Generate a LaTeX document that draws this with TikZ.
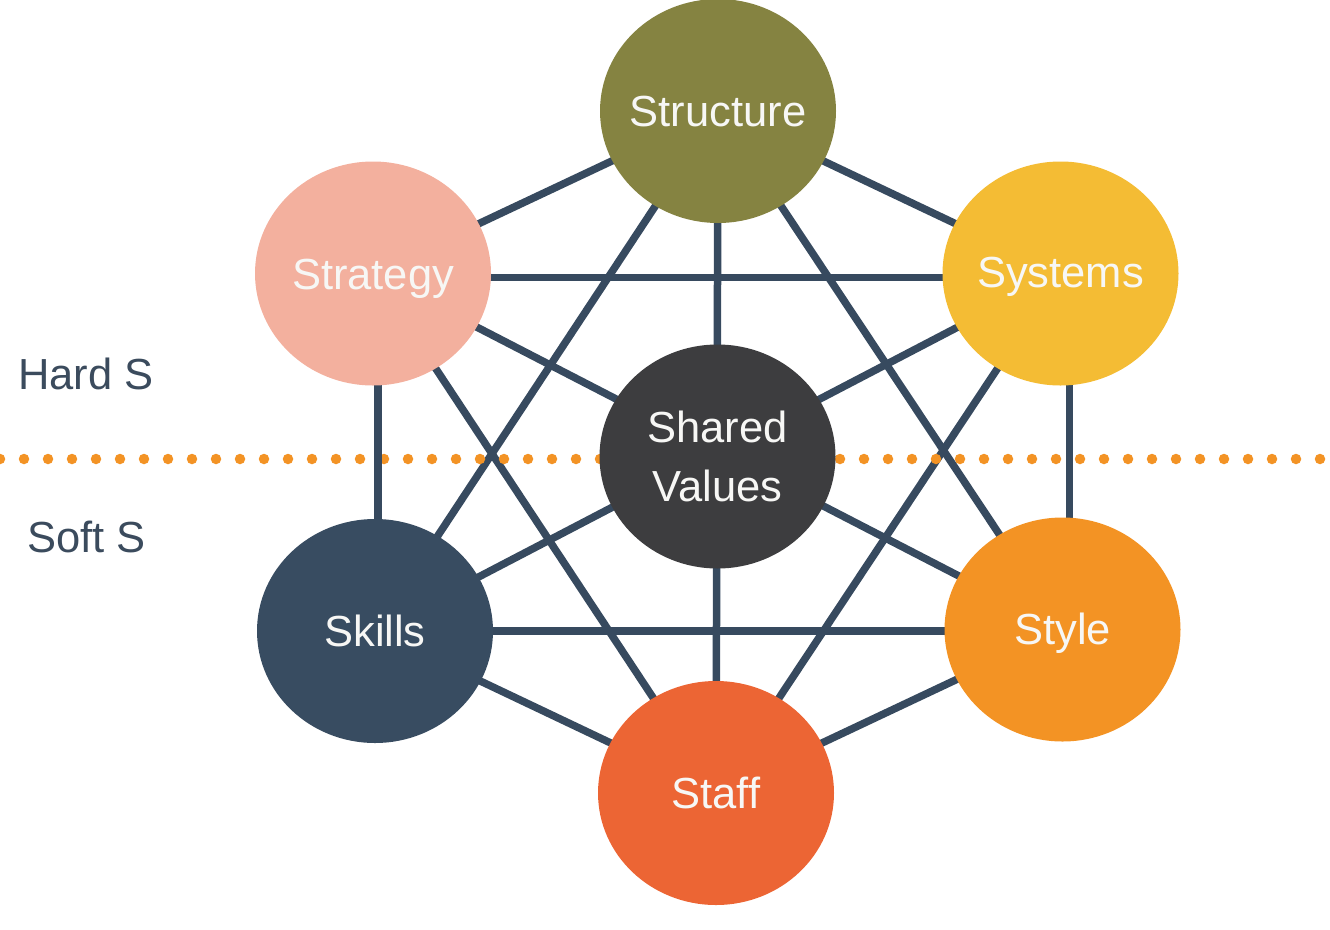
\documentclass[tikz,border=0pt]{standalone}
\usepackage{fontspec}
\setmainfont{Liberation Sans}
\usetikzlibrary{shapes.geometric}
\definecolor{cStructure}{HTML}{858341}
\definecolor{cStrategy}{HTML}{F3B09E}
\definecolor{cSystems}{HTML}{F4BC34}
\definecolor{cShared}{HTML}{3D3D3F}
\definecolor{cSkills}{HTML}{384C61}
\definecolor{cStyle}{HTML}{F39324}
\definecolor{cStaff}{HTML}{EC6534}
\definecolor{cLine}{HTML}{374A5F}
\definecolor{cDots}{HTML}{F39325}
\definecolor{cText}{HTML}{F7F7F5}
\definecolor{cSide}{HTML}{3B4B5D}
\tikzset{
  disc/.style={ellipse, minimum width=236pt, minimum height=224pt, inner sep=0pt, draw=none},
  lbl/.style={text=cText, font=\fontsize{43.5}{59}\selectfont, inner sep=0pt, anchor=base},
  sidelbl/.style={text=cSide, font=\fontsize{43.5}{59}\selectfont, inner sep=0pt, anchor=base west},
  edge/.style={draw=cLine, line width=7.5pt},
  divider/.style={draw=cDots, line width=10.5pt, line cap=round, dash pattern=on 0pt off 24pt}
}
\begin{document}
\begin{tikzpicture}[x=1pt,y=-1pt]
\useasboundingbox (0,0) rectangle (1330,929);
% node positions
\coordinate (pStructure) at (718,111);
\coordinate (pStrategy) at (373,273.5);
\coordinate (pSystems) at (1060.5,273.5);
\coordinate (pShared) at (717.5,456.5);
\coordinate (pSkills) at (375,631);
\coordinate (pStyle) at (1062.5,629.5);
\coordinate (pStaff) at (716,793);
% connectors
\foreach \a/\b in {Structure/Strategy,Structure/Systems,Structure/Skills,Structure/Style,Structure/Staff,
  Strategy/Style,Strategy/Staff,
  Systems/Skills,Systems/Staff,
  Skills/Staff,Style/Staff}
  \draw[edge] (p\a) -- (p\b);
\draw[edge] ([yshift=-4pt]pStrategy) -- ([yshift=-4pt]pSystems);
\draw[edge] (pSkills) -- ([yshift=-1.5pt]pStyle);
% divider
\coordinate (dL) at (0,459);
\coordinate (dR) at (1340,459);
\draw[divider] (dL) -- (dR);
% vertical connectors over the divider
\draw[edge] ([xshift=5pt]pStrategy) -- ([xshift=3pt]pSkills);
\draw[edge] ([xshift=9pt]pSystems) -- ([xshift=7pt]pStyle);
% discs
\node[disc, fill=cStructure] (Structure) at (pStructure) {};
\node[disc, fill=cStrategy] (Strategy) at (pStrategy) {};
\node[disc, fill=cSystems] (Systems) at (pSystems) {};
\node[disc, fill=cShared] (Shared) at (pShared) {};
\node[disc, fill=cSkills] (Skills) at (pSkills) {};
\node[disc, fill=cStyle] (Style) at (pStyle) {};
\node[disc, fill=cStaff] (Staff) at (pStaff) {};
% labels
\node[lbl, yshift=-15.5pt] (tStructure) at (Structure) {Structure};
\node[lbl, yshift=-15.5pt] (tStrategy) at (Strategy) {Strategy};
\node[lbl, yshift=-14pt] (tSystems) at (Systems) {Systems};
\node[lbl, yshift=14.5pt] (tShared) at (Shared) {Shared};
\node[lbl, yshift=-44.5pt] (tValues) at (Shared) {Values};
\node[lbl, yshift=-15.5pt] (tSkills) at (Skills) {Skills};
\node[lbl, yshift=-15pt] (tStyle) at (Style) {Style};
\node[lbl, yshift=-15.5pt] (tStaff) at (Staff) {Staff};
\node[sidelbl] (hard) at (18,389) {Hard S};
\node[sidelbl] (soft) at (27,552) {Soft S};
\end{tikzpicture}
\end{document}
